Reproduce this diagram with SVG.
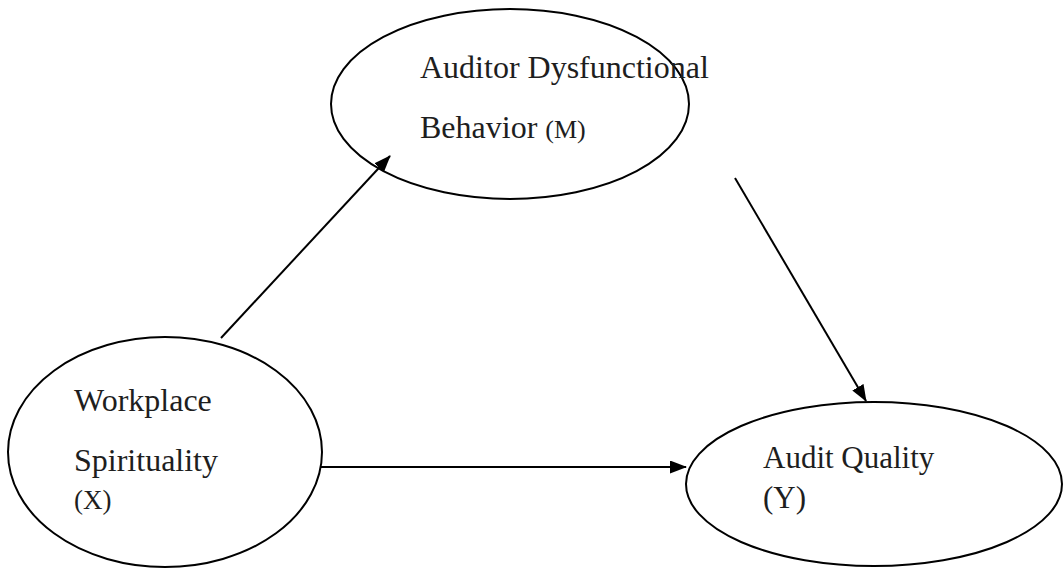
<svg xmlns="http://www.w3.org/2000/svg" width="1063" height="569" viewBox="0 0 1063 569">
<style>
.node{fill:#fff;stroke:#000;stroke-width:2}
.lbl{font-family:"Liberation Serif","Times New Roman",serif;font-size:32px;fill:#1e1e1e}
.r{font-size:31px}
.sm{font-size:26px}
.edge{stroke:#000;stroke-width:2;fill:none;marker-end:url(#ah)}
</style>
<defs>
<marker id="ah" viewBox="0 0 17 13" refX="16" refY="6.5" markerWidth="17" markerHeight="13" markerUnits="userSpaceOnUse" orient="auto">
<path d="M0,0 L17,6.5 L0,13 Z" fill="#000"/>
</marker>
</defs>
<rect width="1063" height="569" fill="#fff"/>
<g id="m">
<ellipse class="node" cx="510" cy="104" rx="179" ry="95"/>
<text class="lbl" x="420" y="78">Auditor Dysfunctional</text>
<text class="lbl" x="420" y="138">Behavior <tspan class="sm">(M)</tspan></text>
</g>
<g id="x">
<ellipse class="node" cx="165" cy="452" rx="157" ry="115"/>
<text class="lbl" x="74" y="411">Workplace</text>
<text class="lbl" x="74" y="471">Spirituality</text>
<text class="lbl" x="74" y="509" style="font-size:27px">(X)</text>
</g>
<g id="y">
<ellipse class="node" cx="874" cy="484" rx="188" ry="82"/>
<text class="lbl r" x="763" y="468">Audit Quality</text>
<text class="lbl r" x="763" y="508">(Y)</text>
</g>
<g id="connectors">
<line class="edge" x1="221" y1="338" x2="390" y2="156"/>
<line class="edge" x1="735" y1="178" x2="866" y2="401"/>
<line class="edge" x1="320" y1="467" x2="686" y2="467"/>
</g>
</svg>
